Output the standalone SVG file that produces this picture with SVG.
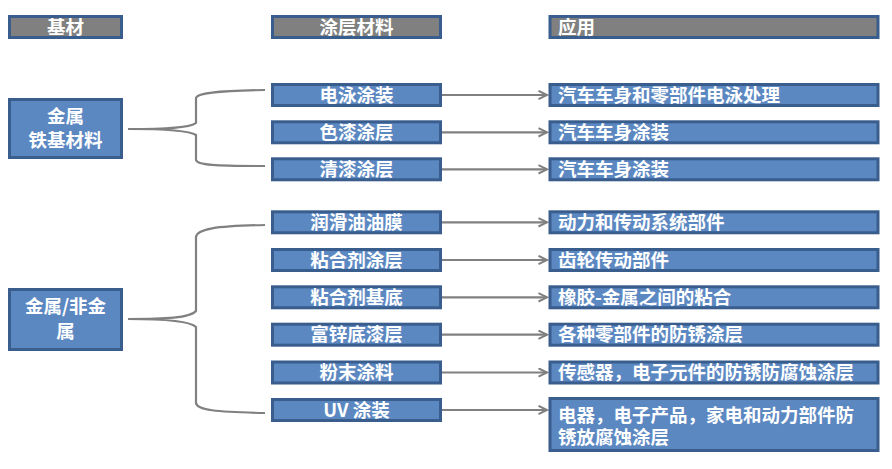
<svg xmlns="http://www.w3.org/2000/svg" width="892" height="469" viewBox="0 0 892 469">
<style>
.box{fill:#5C88C2;stroke:#395D8C;stroke-width:3}
.hdr{fill:#808080;stroke:#395D8C;stroke-width:3}
.t{font-family:"Microsoft YaHei","Noto Sans CJK SC","Noto Sans",sans-serif;font-weight:bold;font-size:18.5px;fill:#ffffff}
.c{text-anchor:middle}
.ln{fill:none;stroke:#808080;stroke-width:2.2}
</style>
<defs>
<marker id="arr" markerUnits="userSpaceOnUse" markerWidth="12" markerHeight="12" refX="9" refY="5" orient="auto">
<path d="M0.5,0.8 L9,5 L0.5,9.2" fill="none" stroke="#808080" stroke-width="2"/>
</marker>
</defs>
<rect width="892" height="469" fill="#ffffff"/>

<g id="headers">
<g id="h1"><rect class="hdr" x="9.5" y="16.5" width="112" height="21"/><text class="t c" x="65.5" y="33.5">基材</text></g>
<g id="h2"><rect class="hdr" x="272.5" y="16.5" width="168" height="21"/><text class="t c" x="356.5" y="33.5">涂层材料</text></g>
<g id="h3"><rect class="hdr" x="550" y="16.5" width="328" height="21"/><text class="t" x="558" y="33.5">应用</text></g>
</g>

<g id="connectors">
<path class="ln" d="M128,129 C165,129 190,128 196,123 L196,98 C197,93 215,91 265,90"/>
<path class="ln" d="M128,129 C165,129 190,131 196,135 L196,160 C197,165 215,166 265,166"/>
<path class="ln" d="M128,319 C165,319 190,318 196,311 L196,237 C197,229 215,226 265,225"/>
<path class="ln" d="M128,319 C165,319 190,321 196,327 L196,403 C197,410 215,412 265,413"/>
<g marker-end="url(#arr)">
<line class="ln" x1="442" y1="95" x2="547" y2="95"/>
<line class="ln" x1="442" y1="132.3" x2="547" y2="132.3"/>
<line class="ln" x1="442" y1="169.3" x2="547" y2="169.3"/>
<line class="ln" x1="442" y1="222.3" x2="547" y2="222.3"/>
<line class="ln" x1="442" y1="260" x2="547" y2="260"/>
<line class="ln" x1="442" y1="297.3" x2="547" y2="297.3"/>
<line class="ln" x1="442" y1="334.7" x2="547" y2="334.7"/>
<line class="ln" x1="442" y1="372.5" x2="547" y2="372.5"/>
<line class="ln" x1="442" y1="410" x2="547" y2="410"/>
</g>
</g>

<g id="sub1"><rect class="box" x="9.5" y="99.5" width="112" height="58"/><text class="t c" x="65.5" y="123">金属</text><text class="t c" x="65.5" y="146.5">铁基材料</text></g>
<g id="sub2"><rect class="box" x="9.5" y="289.5" width="112" height="60"/><text class="t c" x="65.5" y="313">金属/非金</text><text class="t c" x="65.5" y="338">属</text></g>

<g id="m1"><rect class="box" x="272.5" y="84.5" width="168" height="21"/><text class="t c" x="356.5" y="101.5">电泳涂装</text></g>
<g id="m2"><rect class="box" x="272.5" y="121.8" width="168" height="21"/><text class="t c" x="356.5" y="138.8">色漆涂层</text></g>
<g id="m3"><rect class="box" x="272.5" y="158.8" width="168" height="21"/><text class="t c" x="356.5" y="175.8">清漆涂层</text></g>
<g id="m4"><rect class="box" x="272.5" y="211.8" width="168" height="21"/><text class="t c" x="356.5" y="228.8">润滑油油膜</text></g>
<g id="m5"><rect class="box" x="272.5" y="249.5" width="168" height="21"/><text class="t c" x="356.5" y="266.5">粘合剂涂层</text></g>
<g id="m6"><rect class="box" x="272.5" y="286.8" width="168" height="21"/><text class="t c" x="356.5" y="303.8">粘合剂基底</text></g>
<g id="m7"><rect class="box" x="272.5" y="324.2" width="168" height="21"/><text class="t c" x="356.5" y="341.2">富锌底漆层</text></g>
<g id="m8"><rect class="box" x="272.5" y="362" width="168" height="21"/><text class="t c" x="356.5" y="379">粉末涂料</text></g>
<g id="m9"><rect class="box" x="272.5" y="399.5" width="168" height="21"/><text class="t c" x="356.5" y="416.5">UV 涂装</text></g>

<g id="a1"><rect class="box" x="550" y="84.5" width="328" height="21"/><text class="t" x="558" y="101.5">汽车车身和零部件电泳处理</text></g>
<g id="a2"><rect class="box" x="550" y="121.8" width="328" height="21"/><text class="t" x="558" y="138.8">汽车车身涂装</text></g>
<g id="a3"><rect class="box" x="550" y="158.8" width="328" height="21"/><text class="t" x="558" y="175.8">汽车车身涂装</text></g>
<g id="a4"><rect class="box" x="550" y="211.8" width="328" height="21"/><text class="t" x="558" y="228.8">动力和传动系统部件</text></g>
<g id="a5"><rect class="box" x="550" y="249.5" width="328" height="21"/><text class="t" x="558" y="266.5">齿轮传动部件</text></g>
<g id="a6"><rect class="box" x="550" y="286.8" width="328" height="21"/><text class="t" x="558" y="303.8">橡胶-金属之间的粘合</text></g>
<g id="a7"><rect class="box" x="550" y="324.2" width="328" height="21"/><text class="t" x="558" y="341.2">各种零部件的防锈涂层</text></g>
<g id="a8"><rect class="box" x="550" y="362" width="328" height="21"/><text class="t" x="558" y="379">传感器，电子元件的防锈防腐蚀涂层</text></g>
<g id="a9"><rect class="box" x="550" y="398.5" width="328" height="52"/><text class="t" x="558" y="421.5">电器，电子产品，家电和动力部件防</text><text class="t" x="558" y="443.5">锈放腐蚀涂层</text></g>
</svg>
